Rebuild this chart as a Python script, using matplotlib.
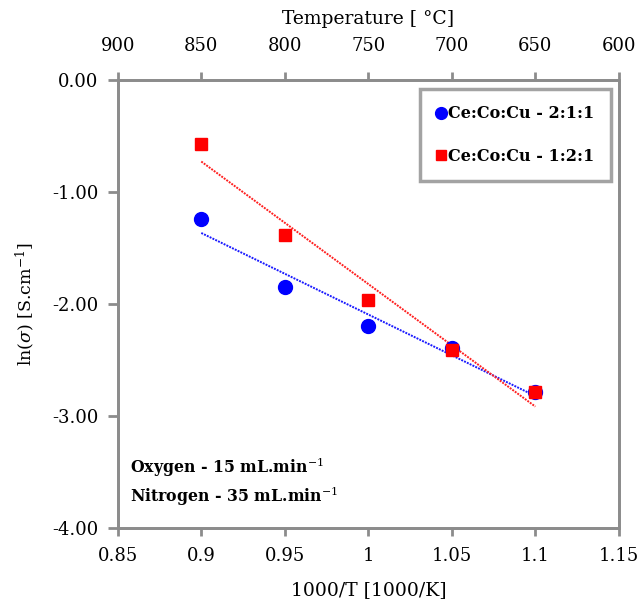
import matplotlib
matplotlib.use("Agg")
import matplotlib.pyplot as plt
import numpy as np

plt.rcParams['font.family'] = ['DejaVu Serif']
plt.rcParams['axes.unicode_minus'] = False
plt.rcParams['mathtext.fontset'] = 'dejavuserif'

inv_T = [0.9, 0.95, 1.0, 1.05, 1.1]
ln_sigma_211 = [-1.24, -1.85, -2.20, -2.39, -2.79]
ln_sigma_121 = [-0.57, -1.38, -1.96, -2.41, -2.79]
series_labels = ["Ce:Co:Cu - 2:1:1", "Ce:Co:Cu - 1:2:1"]
x_ticks = [0.85, 0.9, 0.95, 1.0, 1.05, 1.1, 1.15]
x_tick_labels = ["0.85", "0.9", "0.95", "1", "1.05", "1.1", "1.15"]
top_tick_labels = ["900", "850", "800", "750", "700", "650", "600"]
y_ticks = [0.0, -1.0, -2.0, -3.0, -4.0]

fig = plt.figure(figsize=(6.40, 6.13), dpi=100)
ax = fig.add_axes([0.184, 0.1387, 0.783, 0.7308])

spine_col = '#8c8c8c'
x = np.array(inv_T)
for ys, col in [(ln_sigma_211, '#1a1aff'), (ln_sigma_121, '#ff2020')]:
    p = np.polyfit(x, ys, 1)
    xx = np.array([x.min(), x.max()])
    ax.plot(xx, np.polyval(p, xx), ls=(0, (1, 0.6)), color=col, lw=1.4, zorder=2)

ax.plot(inv_T, ln_sigma_211, 'o', color='#0000ff', ms=10, label=series_labels[0], zorder=3)
ax.plot(inv_T, ln_sigma_121, 's', color='#ff0000', ms=9, label=series_labels[1], zorder=3)

ax.set_xlim(0.85, 1.15)
ax.set_ylim(-4.0, 0.0)
ax.set_xticks(x_ticks)
ax.set_xticklabels(x_tick_labels)
ax.set_yticks(y_ticks)
ax.set_yticklabels(["%.2f" % v for v in y_ticks])

for s in ax.spines.values():
    s.set_color(spine_col)
    s.set_linewidth(2)
ax.tick_params(axis='x', direction='out', length=6, width=2, color=spine_col,
               labelsize=13, pad=8)
ax.tick_params(axis='y', direction='out', length=7, width=2, color=spine_col,
               labelsize=13, pad=7)

ax.set_xlabel("1000/T [1000/K]", fontsize=13.5, labelpad=11)
ax.set_ylabel(r"ln($\sigma$) [S.cm$^{-1}$]", fontsize=12.5, labelpad=11)

ax2 = ax.twiny()
ax2.set_xlim(ax.get_xlim())
ax2.set_xticks(x_ticks)
ax2.set_xticklabels(top_tick_labels)
ax2.tick_params(axis='x', direction='out', length=6, width=2, color=spine_col,
                labelsize=13, pad=12)
for s in ax2.spines.values():
    s.set_color(spine_col)
    s.set_linewidth(2)
ax2.set_xlabel("Temperature [ \u00b0C]", fontsize=13.5, labelpad=9)

leg = ax.legend(loc='upper right', bbox_to_anchor=(0.993, 0.99),
                prop={'weight': 'bold', 'size': 11.5},
                handlelength=0.6, handletextpad=0.15, borderpad=1.0, labelspacing=1.6,
                frameon=True, fancybox=False, markerscale=0.85, borderaxespad=0.3)
leg.get_frame().set_edgecolor(spine_col)
leg.get_frame().set_linewidth(2.5)

ax.text(0.024, 0.135, "Oxygen - 15 mL.min$^{-1}$", transform=ax.transAxes,
        fontsize=11.3, fontweight='bold', va='center')
ax.text(0.024, 0.07, "Nitrogen - 35 mL.min$^{-1}$", transform=ax.transAxes,
        fontsize=11.3, fontweight='bold', va='center')

fig.savefig("out.png", dpi=100)
